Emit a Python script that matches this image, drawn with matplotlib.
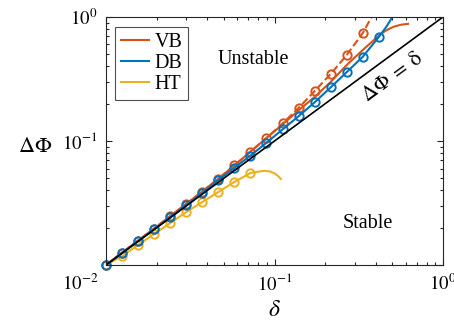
import matplotlib
matplotlib.use("Agg")
import matplotlib.pyplot as plt
from matplotlib.lines import Line2D

plt.rcParams['font.family'] = ['Liberation Serif', 'DejaVu Serif']
plt.rcParams['mathtext.fontset'] = 'stix'

# sampled delta values (markers)
delta = [0.0100, 0.01245, 0.01550, 0.01931, 0.02404, 0.02994, 0.03728, 0.04642,
         0.05780, 0.07197, 0.08962, 0.1116, 0.1390, 0.1730, 0.2154, 0.2683,
         0.3341, 0.4160]

# DB (blue), markers + line
db_phi = [0.0100, 0.01248, 0.01557, 0.01944, 0.02428, 0.03036, 0.03802, 0.04828,
          0.06069, 0.07629, 0.09679, 0.1239, 0.1585, 0.2050, 0.2704, 0.3595,
          0.4777, 0.6905]
db_ext_d = [0.46, 0.53]
db_ext_phi = [0.83, 1.13]

# VB dashed (orange) with markers
vb_mark_phi = [0.0100, 0.01258, 0.01574, 0.01969, 0.02476, 0.03113, 0.03914, 0.04967,
               0.06358, 0.08204, 0.1057, 0.1384, 0.1848, 0.2526, 0.3469, 0.4936,
               0.7416]
vb_dash_ext_d = [0.4160]
vb_dash_ext_phi = [1.28]

# VB solid (orange), no markers
vb_d = [0.0100, 0.01245, 0.01550, 0.01931, 0.02404, 0.02994, 0.03728, 0.04642,
        0.05780, 0.07197, 0.08962, 0.1116, 0.1390, 0.1730, 0.2154, 0.2683,
        0.3341, 0.42, 0.46, 0.51, 0.56, 0.62]
vb_phi = [0.0100, 0.01258, 0.01574, 0.01969, 0.02476, 0.03113, 0.03914, 0.04967,
          0.06358, 0.08204, 0.1057, 0.1361, 0.1765, 0.2266, 0.2994, 0.4100,
          0.5420, 0.716, 0.78, 0.835, 0.865, 0.88]

# HT (yellow)
ht_phi = [0.0100, 0.0118, 0.0145, 0.0178, 0.0218, 0.0267, 0.0322, 0.0388,
          0.0467, 0.0552]
ht_ext_d = [0.080, 0.087, 0.094, 0.100, 0.105, 0.109]
ht_ext_phi = [0.0566, 0.0574, 0.0568, 0.0548, 0.0522, 0.0494]

c_vb = '#D95319'
c_db = '#0072BD'
c_ht = '#EDB120'

fig = plt.figure(figsize=(4.54, 3.26), dpi=100)
ax = fig.add_axes([0.2335, 0.1871, 0.7423, 0.7608])

mk = dict(marker='o', ms=6, mfc='none', mew=1.4, ls='none', clip_on=False)

# HT
ax.plot(delta[:10] + ht_ext_d, ht_phi + ht_ext_phi, '-', color=c_ht, lw=1.5)
ax.plot(delta[:10], ht_phi, color=c_ht, **mk)
# VB
ax.plot(delta[:17] + vb_dash_ext_d, vb_mark_phi + vb_dash_ext_phi, '--', color=c_vb, lw=1.5)
ax.plot(vb_d, vb_phi, '-', color=c_vb, lw=1.5)
ax.plot(delta[:17], vb_mark_phi, color=c_vb, **mk)
# DB
ax.plot(delta + db_ext_d, db_phi + db_ext_phi, '-', color=c_db, lw=1.5)
ax.plot(delta, db_phi, color=c_db, **mk)
# reference line
ax.plot([0.01, 1], [0.01, 1], '-', color='k', lw=1.2)

ax.set_xscale('log')
ax.set_yscale('log')
ax.set_xlim(0.01, 1)
ax.set_ylim(0.01, 1)
ax.set_xticks([0.01, 0.1, 1])
ax.set_xticklabels(['', '$10^{-1}$', '$10^{0}$'])
ax.set_yticks([0.01, 0.1, 1])
ax.set_yticklabels(['', '$10^{-1}$', '$10^{0}$'])
ax.tick_params(which='both', direction='in', top=True, right=True,
               labelsize=13.5, color='0.15', width=0.8)
ax.tick_params(which='major', length=4, pad=6)
ax.tick_params(which='minor', length=2.5)
for s in ax.spines.values():
    s.set_color('0.15')
    s.set_linewidth(0.8)

fig.text(80 / 454, 1 - 284 / 326, '$10^{-2}$', fontsize=13.5, ha='center', va='center')

ax.set_xlabel(r'$\delta$', fontsize=17, labelpad=4)
ax.set_ylabel(r'$\Delta\mathit{\Phi}$', fontsize=16, rotation=0, va='center', ha='center')
ax.yaxis.set_label_coords(-0.21, 0.475)

ax.text(0.0745, 0.45, 'Unstable', fontsize=14.5, ha='center', va='center')
ax.text(0.359, 0.0218, 'Stable', fontsize=14.5, ha='center', va='center')
ax.text(0.505, 0.322, r'$\Delta\Phi\;=\;\mathrm{\delta}$', fontsize=15, rotation=36.3,
        ha='center', va='center', rotation_mode='anchor')

handles = [Line2D([], [], color=c_vb, lw=1.5),
           Line2D([], [], color=c_db, lw=1.5),
           Line2D([], [], color=c_ht, lw=1.5)]
leg = ax.legend(handles, ['VB', 'DB', 'HT'], loc='upper left', bbox_to_anchor=(0.027, 0.96),
                fontsize=14.5, frameon=True, fancybox=False, handlelength=1.4,
                handletextpad=0.25, borderpad=0.3, labelspacing=0.1, borderaxespad=0)
leg.get_frame().set_edgecolor('0.15')
leg.get_frame().set_linewidth(0.8)

fig.savefig('out.png', dpi=100)
